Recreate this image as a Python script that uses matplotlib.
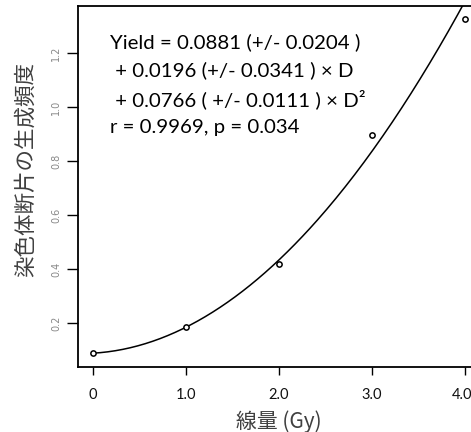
import numpy as np
import matplotlib
matplotlib.use('Agg')
import matplotlib.pyplot as plt
import matplotlib.transforms as mtransforms

# dose (Gy) and observed yield
dose = [0, 1, 2, 3, 4]
yield_obs = [0.089, 0.185, 0.42, 0.896, 1.326]

# fitted coefficients
coef = [0.0881, 0.0196, 0.0766]

xticks = [0, 1, 2, 3, 4]
xtick_labels = ['0', '1.0', '2.0', '3.0', '4.0']
yticks = [0.2, 0.4, 0.6, 0.8, 1.0, 1.2]
ytick_labels = ['0.2', '0.4', '0.6', '0.8', '1.0', '1.2']

fig = plt.figure(figsize=(4.71, 4.32), dpi=100)
ax = fig.add_axes([78 / 471, 65 / 432, 402 / 471, 361 / 432])

d = np.linspace(0, 4, 200)
fit = coef[0] + coef[1] * d + coef[2] * d ** 2
ax.plot(d, fit, color='black', lw=1.1)
ax.plot(dose, yield_obs, 'o', mfc='white', mec='black', ms=3.8, mew=1.1)

ax.set_xlim(-0.16, 4.16)
ax.set_ylim(0.037, 1.374)

ax.set_xticks(xticks)
ax.set_xticklabels(xtick_labels, fontsize=10.5, family='Lato', color='#111111')
ax.set_yticks(yticks)
ax.set_yticklabels(ytick_labels, fontsize=7, family='DejaVu Sans', color='#888888',
                   rotation=90, va='center')
ax.tick_params(axis='x', length=6, width=1, pad=9)
ax.tick_params(axis='y', length=8, width=1, pad=4)
for s in ax.spines.values():
    s.set_linewidth(1.3)

# the last x label sits against the image edge, nudge it left a little
last = ax.get_xticklabels()[-1]
last.set_transform(last.get_transform() +
                   mtransforms.ScaledTranslation(-3 / 100, 0, fig.dpi_scale_trans))

ax.set_xlabel('線量 (Gy)', fontsize=15, family=['Noto Sans CJK JP', 'DejaVu Sans'],
              color='#404040', labelpad=6)
ax.set_ylabel('染色体断片の生成頻度', fontsize=15.5, family=['Noto Sans CJK JP', 'DejaVu Sans'],
              color='#404040')
ax.yaxis.set_label_coords(-0.102, 0.546)

lines = ['Yield = 0.0881 (+/- 0.0204 )',
         ' + 0.0196 (+/- 0.0341 ) × D',
         ' + 0.0766 ( +/- 0.0111 ) × D²',
         'r = 0.9969, p = 0.034']
for i, t in enumerate(lines):
    fig.text(110 / 471, 1 - (42 + 28.5 * i) / 432, t, fontsize=14.7, family='Lato',
             va='center', ha='left', color='black')

fig.savefig('out.png', dpi=100)
